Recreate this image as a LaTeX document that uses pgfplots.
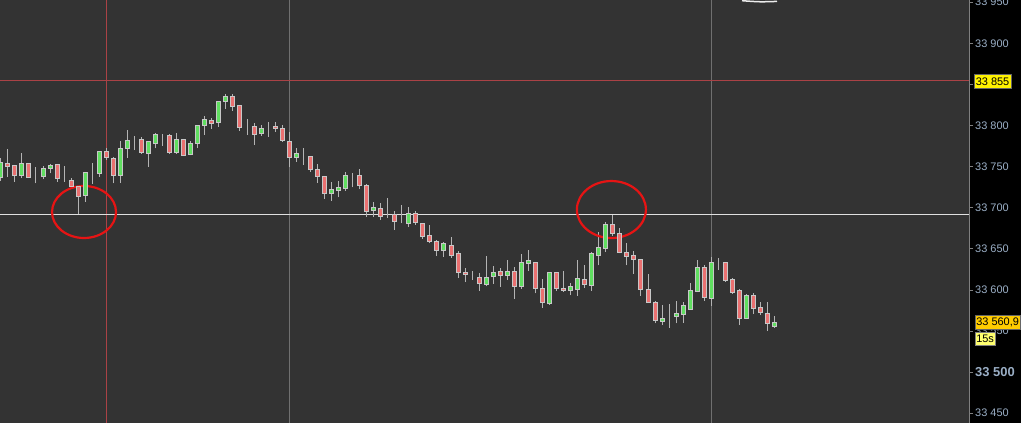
\documentclass[border=0pt]{standalone}
\usepackage{pgfplots}
\pgfplotsset{compat=1.18}
\usepackage{pgfplotstable}
\usepackage{fontspec}
\setmainfont{Liberation Sans}

\definecolor{bg}{RGB}{51,51,51}
\definecolor{upc}{RGB}{96,222,96}
\definecolor{dnc}{RGB}{234,112,112}
\definecolor{edge}{RGB}{200,200,200}
\definecolor{wick}{RGB}{180,180,180}
\definecolor{lvlred}{RGB}{170,66,70}
\definecolor{vgrid}{RGB}{112,112,112}
\definecolor{tickc}{RGB}{155,175,198}
\definecolor{circ}{RGB}{230,20,20}

% i open high low close  (15s candles)
\pgfplotstableread{
i o h l c
0 33736.5 33760.0 33733.0 33754.8
1 33754.0 33771.4 33737.7 33749.9
2 33750.8 33751.0 33731.7 33739.0
3 33739.0 33766.2 33735.8 33753.2
4 33753.2 33753.5 33736.0 33736.5
5 33736.5 33749.9 33729.7 33736.5
6 33737.7 33750.8 33734.6 33748.0
7 33747.5 33753.6 33741.9 33750.8
8 33752.0 33752.2 33731.7 33735.3
9 33733.7 33750.8 33731.7 33733.7
10 33733.4 33736.5 33725.4 33725.6
11 33725.6 33726.8 33692.4 33713.9
12 33714.6 33743.1 33707.3 33743.1
13 33742.6 33754.0 33728.9 33742.6
14 33741.4 33767.8 33737.7 33767.8
15 33767.8 33773.0 33758.1 33761.3
16 33760.1 33762.1 33729.7 33739.0
17 33739.0 33781.2 33730.4 33772.3
18 33772.3 33794.6 33760.9 33782.0
19 33783.2 33787.3 33770.2 33783.2
20 33783.2 33786.4 33765.4 33766.9
21 33766.2 33781.2 33749.9 33780.0
22 33778.4 33791.3 33772.3 33788.5
23 33788.5 33789.7 33775.5 33788.5
24 33788.1 33789.7 33765.4 33766.9
25 33766.9 33791.3 33765.4 33783.2
26 33783.2 33783.5 33763.5 33763.8
27 33764.5 33781.2 33763.8 33778.4
28 33778.4 33800.5 33772.3 33800.3
29 33799.8 33811.6 33788.5 33807.6
30 33806.4 33809.5 33795.8 33802.2
31 33803.4 33830.2 33798.6 33829.5
32 33829.0 33838.3 33820.5 33835.9
33 33835.5 33838.3 33818.0 33823.4
34 33823.8 33824.6 33793.7 33797.4
35 33798.6 33807.9 33788.5 33798.6
36 33799.4 33802.7 33776.7 33788.8
37 33789.7 33800.6 33787.6 33795.8
38 33797.4 33803.9 33786.4 33797.4
39 33799.4 33803.9 33792.5 33796.6
40 33795.8 33801.0 33780.0 33781.2
41 33780.8 33791.8 33749.2 33760.9
42 33761.3 33772.3 33756.0 33765.4
43 33764.1 33772.3 33752.0 33764.1
44 33762.6 33763.0 33743.5 33745.9
45 33747.1 33753.2 33730.4 33737.7
46 33738.2 33738.5 33711.0 33717.1
47 33717.6 33731.3 33708.5 33721.6
48 33720.7 33732.9 33712.7 33724.0
49 33723.1 33743.8 33720.7 33739.8
50 33740.2 33742.6 33724.8 33740.2
51 33739.8 33747.1 33722.4 33726.8
52 33727.6 33728.9 33689.1 33695.2
53 33696.4 33707.0 33689.1 33700.5
54 33699.3 33705.4 33685.1 33689.9
55 33689.6 33711.8 33687.5 33689.6
56 33691.5 33695.7 33672.9 33683.0
57 33682.0 33703.3 33681.1 33682.0
58 33681.1 33700.9 33676.9 33692.7
59 33692.7 33695.7 33679.0 33681.8
60 33681.1 33681.5 33662.0 33664.8
61 33665.6 33679.0 33656.7 33658.7
62 33659.5 33660.7 33641.3 33647.7
63 33647.7 33658.3 33640.4 33655.9
64 33654.3 33664.8 33639.2 33641.3
65 33643.7 33647.4 33614.9 33621.4
66 33621.4 33626.7 33609.6 33619.0
67 33617.3 33623.0 33612.1 33617.3
68 33615.7 33621.0 33598.7 33607.8
69 33606.0 33641.3 33604.2 33615.7
70 33616.1 33629.1 33607.8 33621.4
71 33621.8 33626.7 33603.9 33617.3
72 33617.3 33636.4 33612.1 33621.8
73 33621.8 33628.3 33589.3 33603.9
74 33603.9 33643.7 33601.5 33632.8
75 33631.9 33648.6 33623.0 33635.2
76 33633.6 33633.8 33595.9 33601.5
77 33602.0 33613.3 33578.4 33584.9
78 33583.7 33621.5 33581.7 33621.4
79 33621.4 33621.5 33598.7 33601.5
80 33602.0 33623.4 33597.8 33599.5
81 33599.5 33608.8 33593.5 33604.4
82 33600.9 33636.4 33593.2 33613.9
83 33612.9 33630.3 33602.3 33607.0
84 33605.6 33646.5 33599.1 33643.7
85 33642.1 33670.8 33630.0 33651.9
86 33650.6 33683.0 33646.1 33679.0
87 33679.0 33691.2 33666.0 33668.9
88 33668.9 33675.0 33644.6 33645.8
89 33645.8 33656.7 33630.0 33640.9
90 33642.1 33647.4 33619.4 33637.3
91 33637.3 33637.5 33593.0 33600.8
92 33600.8 33619.4 33584.1 33585.3
93 33585.3 33586.5 33559.4 33563.4
94 33561.3 33581.7 33557.3 33565.5
95 33564.6 33582.9 33554.1 33564.6
96 33567.4 33586.5 33559.4 33571.6
97 33570.7 33585.7 33560.1 33580.5
98 33576.4 33608.8 33575.6 33599.5
99 33597.8 33636.4 33597.5 33627.5
100 33627.5 33630.3 33586.9 33590.5
101 33589.3 33639.7 33580.8 33633.6
102 33634.3 33638.5 33624.2 33634.3
103 33633.6 33634.0 33610.0 33611.2
104 33612.9 33614.1 33595.4 33596.6
105 33598.7 33600.8 33557.3 33565.5
106 33565.5 33595.4 33564.6 33593.8
107 33593.5 33595.9 33570.7 33576.8
108 33578.9 33585.3 33569.5 33572.3
109 33571.6 33585.0 33550.4 33559.4
110 33555.7 33568.3 33553.7 33560.6
}\candles

\pgfplotsset{candleaxis/.style={
  width=969bp, height=423bp, scale only axis,
  at={(0,0)}, anchor=south west,
  xmin=-0.114, xmax=137.63,
  ymin=33438.1, ymax=33952.7,
}}

\begin{document}
\begin{tikzpicture}
\path[use as bounding box] (0,0) rectangle (1021bp,423bp);
\fill[black] (969bp,0) rectangle (1021bp,423bp);

\begin{axis}[candleaxis,
  axis background/.style={fill=bg},
  axis line style={draw=none},
  xtick=\empty,
  ytick={33450,33500,33550,33600,33650,33700,33750,33800,33850,33900,33950},
  yticklabels={33 450,{\fontsize{13}{15}\selectfont\bfseries 33 500},33 550,33 600,33 650,33 700,33 750,33 800,33 850,33 900,33 950},
  ytick pos=right, yticklabel pos=right,
  tick align=outside, major tick length=4bp,
  ytick style={draw=gray, line width=0.8bp},
  yticklabel style={font=\fontsize{11}{13}\selectfont, text=tickc, anchor=west, inner sep=2bp},
]
% reference lines
\draw[lvlred, line width=1bp] (axis cs:15,33438.1) -- (axis cs:15,33952.7);
\draw[vgrid, line width=1bp] (axis cs:41,33438.1) -- (axis cs:41,33952.7);
\draw[vgrid, line width=1bp] (axis cs:101,33438.1) -- (axis cs:101,33952.7);
\draw[lvlred, line width=1bp] (axis cs:-1,33855) -- (axis cs:140,33855);
\draw[white!88!black, line width=1bp] (axis cs:-1,33692.3) -- (axis cs:140,33692.3);
% wicks
\addplot[draw=none, mark=none,
  error bars/.cd, y dir=plus, y explicit, error mark=none,
  error bar style={draw=wick, line width=1bp}]
  table[x=i, y=l, y error expr=\thisrow{h}-\thisrow{l}] {\candles};
\end{axis}

\begin{axis}[candleaxis, hide axis,
  ybar stacked, bar width=4bp,
]
\addplot[draw=none, fill=none] table[x=i, y expr={min(\thisrow{o},\thisrow{c})}] {\candles};
\addplot[draw=edge, fill=upc, line width=1bp] table[x=i, y expr={max(\thisrow{c}-\thisrow{o},0)}] {\candles};
\addplot[draw=edge, fill=dnc, line width=1bp] table[x=i, y expr={max(\thisrow{o}-\thisrow{c},0)}] {\candles};
% hand-drawn circles
\draw[circ, line width=2.2bp] (axis cs:11.83,33694.8) ellipse [x radius=32bp, y radius=26bp];
\draw[circ, line width=2.2bp] (axis cs:86.8,33697.8) ellipse [x radius=34.5bp, y radius=28.5bp];
\end{axis}

\draw[gray, line width=1bp] (969bp,0) -- (969bp,423bp);
\draw[white!85!gray, line width=1.5bp] (742bp,422.3bp) .. controls (760bp,421bp) .. (777bp,421.6bp);

\node[fill=yellow, draw=black!60, line width=0.6bp, inner xsep=1.5bp, inner ysep=3bp, anchor=west,
  font=\fontsize{11}{13}\selectfont] at (974bp,341.5bp) {33 855};
\node[fill={rgb,255:red,255;green,204;blue,0}, draw=black!60, line width=0.6bp, inner xsep=1.5bp, inner ysep=2.5bp, anchor=west,
  font=\fontsize{11}{13}\selectfont] at (974.5bp,100.8bp) {33 560,9};
\node[fill={rgb,255:red,255;green,255;blue,110}, draw=black!50, line width=0.6bp, inner xsep=1.5bp, inner ysep=2.5bp, anchor=west,
  font=\fontsize{11}{13}\selectfont] at (974.5bp,84.2bp) {15s};
\end{tikzpicture}
\end{document}
